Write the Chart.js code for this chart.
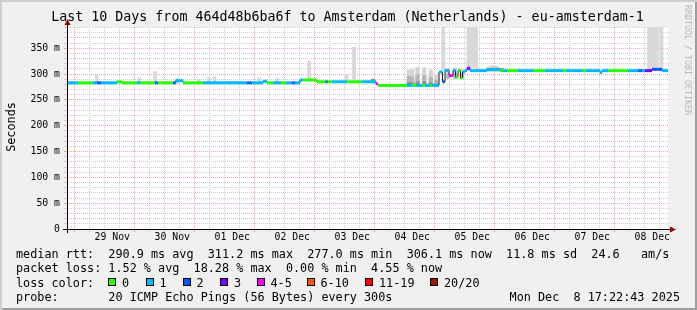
<!DOCTYPE html>
<html>
<head>
<meta charset="utf-8">
<script src="https://cdn.jsdelivr.net/npm/chart.js@4.4.1/dist/chart.umd.min.js"></script>
<style>
  html, body { margin: 0; padding: 0; background: #f0f0f0; }
  #wrap { position: relative; width: 697px; height: 310px; overflow: hidden; background: #f0f0f0;
          font-family: 'DejaVu Sans Mono', monospace; color: #000;
          box-shadow: inset 2px 2px 0 #cfcfcf, inset -2px -2px 0 #9e9e9e; }
  #wrap canvas { position: absolute; left: 0; top: 0; }
  .t { position: absolute; white-space: pre; font-size: 11.8px; line-height: 14px; }
  #title { left: 0; width: 695px; top: 9px; text-align: center; font-size: 13.3px; line-height: 16px; }
  #ytitle { left: -19px; top: 120px; width: 60px; text-align: center; transform: rotate(-90deg); }
  #mark { position: absolute; left: 683px; top: 5px; font-size: 8.3px; line-height: 10px;
          writing-mode: vertical-rl; color: #b8b8b8; white-space: pre; }
  .box { position: absolute; width: 6px; height: 6px; border: 1px solid #000; top: 278px; }
</style>
</head>
<body>
<div id="wrap">
  <canvas id="chart" width="697" height="310"></canvas>
  <div class="t" id="title">Last 10 Days from 464d48b6ba6f to Amsterdam (Netherlands) - eu-amsterdam-1</div>
  <div class="t" id="ytitle">Seconds</div>
  <div id="mark">RRDTOOL / TOBI OETIKER</div>
  <div class="t" style="left:16px;top:247px">median rtt:  290.9 ms avg  311.2 ms max  277.0 ms min  306.1 ms now  11.8 ms sd  24.6   am/s</div>
  <div class="t" style="left:16px;top:261px">packet loss: 1.52 % avg  18.28 % max  0.00 % min  4.55 % now</div>
  <div class="t" style="left:16px;top:275.5px">loss color:</div>
  <div id="legend"></div>
  <div class="t" style="left:16px;top:290px">probe:       20 ICMP Echo Pings (56 Bytes) every 300s</div>
  <div class="t" style="right:17px;top:290px">Mon Dec  8 17:22:43 2025</div>
</div>
<script>
// time axis is hours since 28 Nov 00:00
const START = 17.9, END = 258.3;

const lossLabels = ['0', '1', '2', '3', '4-5', '6-10', '11-19', '20/20'];
const lossColors = ['#26ff00', '#00b8ff', '#0059ff', '#7e00ff', '#ff00ff', '#ff5500', '#ff0000', '#a01000'];
const legendX = [108, 145.5, 182.5, 220, 256.5, 306.5, 365, 430];

const dayLabels = ['29 Nov', '30 Nov', '01 Dec', '02 Dec', '03 Dec', '04 Dec', '05 Dec', '06 Dec', '07 Dec', '08 Dec'];
const dayNoon = [36, 60, 84, 108, 132, 156, 180, 204, 228, 252];

// median rtt steps (value holds until the next time), loss class per step
const medTime = [17.9, 22.3, 28.3, 29.9, 31.5, 37.9, 39.8, 45.9, 47.1, 53.1, 54.3, 60.3, 61.4, 64.3, 72.3,
  89.9, 91.9, 96.3, 97.9, 100.3, 103.5, 105.5, 107.8, 109.1, 111.1, 112.3, 117.8, 121.4, 122.2, 123.8,
  129.8, 135.8, 141.5, 142.3, 153.9, 155.9, 157.5, 159.9, 161.1, 163.1, 163.9, 166.7, 168.1, 169.1,
  170.7, 172.3, 173.3, 174.3, 175.3, 176.1, 177.1, 177.9, 179.1, 185.9, 191.1, 192.3, 193.9, 198.3,
  204.3, 209.1, 216.3, 217.5, 224.3, 225.5, 231.1, 231.9, 234.3, 242.3, 246.3, 247.9, 249.1, 251.9,
  255.9, 258.3];
const medRtt = [283, 283, 283, 283, 283, 285, 283, 283, 283, 283, 283, 283, 287, 283, 283,
  283, 283, 286, 283, 283, 283, 283, 283, 283, 288.5, 288.5, 285, 285, 285, 285,
  285, 285, 281, 278, 278, 278, 278, 278, 278, 278, 278, 304, 285, 307,
  297, 307, 294, 307, 292, 304, 307, 311, 306.5, 308.5, 306.5, 306.5, 306.5, 306.5,
  306.5, 306.5, 306.5, 306.5, 306.5, 306.5, 303, 306.5, 306.5, 306.5, 306.5, 306.5, 306.5, 309,
  306.5, 306.5];
const medLoss = [1, 0, 1, 2, 1, 0, 0, 1, 0, 2, 0, 2, 1, 0, 1,
  2, 1, 1, 0, 1, 0, 1, 2, 1, 1, 0, 0, 2, 0, 1,
  0, 1, 4, 0, 1, 0, 1, 0, 1, 0, 1, 1, 2, 1,
  4, 1, 0, 0, 0, 1, 1, 3, 1, 1, 0, 1, 0, 1,
  0, 1, 0, 1, 0, 1, 1, 1, 0, 1, 2, 1, 3, 2,
  1, 1];

// thin smoke spikes (max ping)
const spikeTime = [29.8, 46.7, 53.1, 61.9, 70.5, 74.7, 76.9, 94.7, 101.9, 114.7, 129.8, 132.7, 134.6, 168.4, 255.7];
const spikeLow  = [281, 281, 281, 281, 281, 281, 281, 281, 281, 286, 283, 283, 283, 307, 309];
const spikeHigh = [298, 292, 304.5, 292, 290, 293.5, 295, 292, 292, 325, 299.5, 352, 288, 400, 400];

// wide smoke columns running off the top
const colTime = [180.0, 252.3];
const colLow  = [312, 309];
const colHigh = [400, 400];

// dense smoke around 04 Dec (outer, middle and inner shades)
const denseTime  = [154.6, 156.0, 158.1, 160.8, 163.4, 165.5, 170.3, 173.1, 175.9, 186.5, 188.1, 189.7, 191.1];
const denseLow   = [277, 277, 277, 277, 277, 277, 292, 292, 292, 306, 306, 306, 306];
const denseOuter = [308, 309, 313, 312, 308, 298, 310, 312, 309, 314, 316, 315, 312];
const denseMid   = [296, 294, 298, 297, 294, 288, 300, 302, 300, 311, 312, 312, 310];
const innerTime  = [140.3, 154.6, 156.0, 158.1, 160.8, 163.4, 165.5, 191.6];
const innerLow   = [283, 277, 277, 277, 277, 277, 277, 306];
const innerHigh  = [290, 284, 283, 285, 285, 283, 281, 311];

const MAJOR = 'rgba(235,60,60,0.45)';
const MINOR = '#cfcfcf';

// legend boxes
const legend = document.getElementById('legend');
lossLabels.forEach((lab, i) => {
  const b = document.createElement('div');
  b.className = 'box';
  b.style.left = legendX[i] + 'px';
  b.style.background = lossColors[i];
  legend.appendChild(b);
  const t = document.createElement('div');
  t.className = 't';
  t.style.left = (legendX[i] + 14) + 'px';
  t.style.top = '275.5px';
  t.textContent = lab;
  legend.appendChild(t);
});

// colored loss line: horizontal pieces only, verticals come from the thin dark line
const lossLine = [], lossIdx = [];
for (let i = 0; i < medTime.length - 1; i++) {
  lossLine.push({x: medTime[i], y: medRtt[i]}, {x: medTime[i + 1], y: medRtt[i]}, {x: medTime[i + 1], y: null});
  lossIdx.push(medLoss[i], medLoss[i], medLoss[i]);
}
const medLine = medTime.map((t, i) => ({x: t, y: medRtt[i]}));
const bars = (times, lo, hi) => times.map((t, i) => ({x: t, y: [lo[i], hi[i]]}));

const xTicks = [], yTicks = [];
for (let h = 18; h <= 258; h += 6) xTicks.push({value: h});
for (let v = 0; v <= 390; v += 10) yTicks.push({value: v});

const frame = {
  id: 'frame',
  beforeDraw(chart) {
    const {ctx, chartArea: a} = chart;
    ctx.save();
    ctx.fillStyle = '#ffffff';
    ctx.fillRect(a.left, a.top, a.right - a.left, a.bottom - a.top);
    ctx.restore();
  },
  afterDraw(chart) {
    const {ctx, chartArea: a} = chart;
    const ax = a.left + 0.5, ay = a.bottom + 0.5;
    ctx.save();
    ctx.strokeStyle = '#000';
    ctx.lineWidth = 1;
    ctx.beginPath();
    ctx.moveTo(a.left - 4, ay); ctx.lineTo(a.right + 4, ay);
    ctx.moveTo(ax, a.bottom + 4); ctx.lineTo(ax, a.top - 4);
    ctx.stroke();
    ctx.fillStyle = '#9b0000';
    ctx.beginPath();
    ctx.moveTo(ax, a.top - 8); ctx.lineTo(ax - 3, a.top - 2); ctx.lineTo(ax + 3, a.top - 2); ctx.closePath();
    ctx.moveTo(a.right + 8, ay); ctx.lineTo(a.right + 2, ay - 3); ctx.lineTo(a.right + 2, ay + 3); ctx.closePath();
    ctx.fill();
    ctx.restore();
  }
};

const tickFont = {family: 'DejaVu Sans Mono', size: 9.8};

new Chart(document.getElementById('chart'), {
  type: 'line',
  data: {
    datasets: [
      {type: 'line', data: lossLine, borderWidth: 3, borderColor: lossColors[1], pointRadius: 0,
       spanGaps: false, borderCapStyle: 'butt', order: 0,
       segment: {borderColor: c => lossColors[lossIdx[c.p0DataIndex]]}},
      {type: 'line', data: medLine, borderWidth: 1, borderColor: '#202020', pointRadius: 0,
       stepped: true, order: 1},
      {type: 'bar', data: bars(innerTime, innerLow, innerHigh), backgroundColor: '#8e8e8e',
       barThickness: 3.5, grouped: false, borderWidth: 0, order: 2},
      {type: 'bar', data: bars(denseTime, denseLow, denseMid), backgroundColor: '#b6b6b6',
       barThickness: 3.5, grouped: false, borderWidth: 0, order: 3},
      {type: 'bar', data: bars(denseTime, denseLow, denseOuter), backgroundColor: '#d4d4d4',
       barThickness: 3.5, grouped: false, borderWidth: 0, order: 4},
      {type: 'bar', data: bars(spikeTime, spikeLow, spikeHigh), backgroundColor: '#d8d8d8',
       barThickness: 3, grouped: false, borderWidth: 0, order: 5},
      {type: 'bar', data: bars(colTime, colLow, colHigh), backgroundColor: '#d8d8d8',
       barThickness: 11, grouped: false, borderWidth: 0, order: 6}
    ]
  },
  options: {
    responsive: false,
    animation: false,
    events: [],
    layout: {padding: {left: 0, right: 29, top: 27, bottom: 0}},
    plugins: {legend: {display: false}, tooltip: {enabled: false}, title: {display: false}},
    scales: {
      x: {
        type: 'linear', min: START, max: END, bounds: 'data', offset: false,
        afterBuildTicks: s => { s.ticks = xTicks.map(t => ({value: t.value})); },
        afterFit: s => { s.height = 81; },
        grid: {
          color: c => (c.tick && c.tick.value % 24 === 0) ? MAJOR : MINOR,
          tickColor: c => (c.tick && c.tick.value % 24 === 0) ? MAJOR : MINOR,
          tickLength: 3, lineWidth: 1
        },
        border: {display: false, dash: [1, 1]},
        ticks: {
          autoSkip: false, maxRotation: 0, padding: 0, color: '#000', font: tickFont,
          callback: v => { const i = dayNoon.indexOf(v); return i >= 0 ? dayLabels[i] : ''; }
        }
      },
      y: {
        type: 'linear', min: 0, max: 391, bounds: 'data',
        afterBuildTicks: s => { s.ticks = yTicks.map(t => ({value: t.value})); },
        afterFit: s => { s.width = 67; },
        grid: {
          color: c => (c.tick && c.tick.value % 50 === 0) ? MAJOR : MINOR,
          tickColor: c => (c.tick && c.tick.value % 50 === 0) ? MAJOR : MINOR,
          tickLength: 3, lineWidth: 1
        },
        border: {display: false, dash: [1, 1]},
        ticks: {
          autoSkip: false, padding: 4, color: '#000', font: tickFont,
          callback: v => v % 50 === 0 ? (v === 0 ? '0' : v + ' m') : ''
        }
      }
    }
  },
  plugins: [frame]
});
</script>
</body>
</html>
